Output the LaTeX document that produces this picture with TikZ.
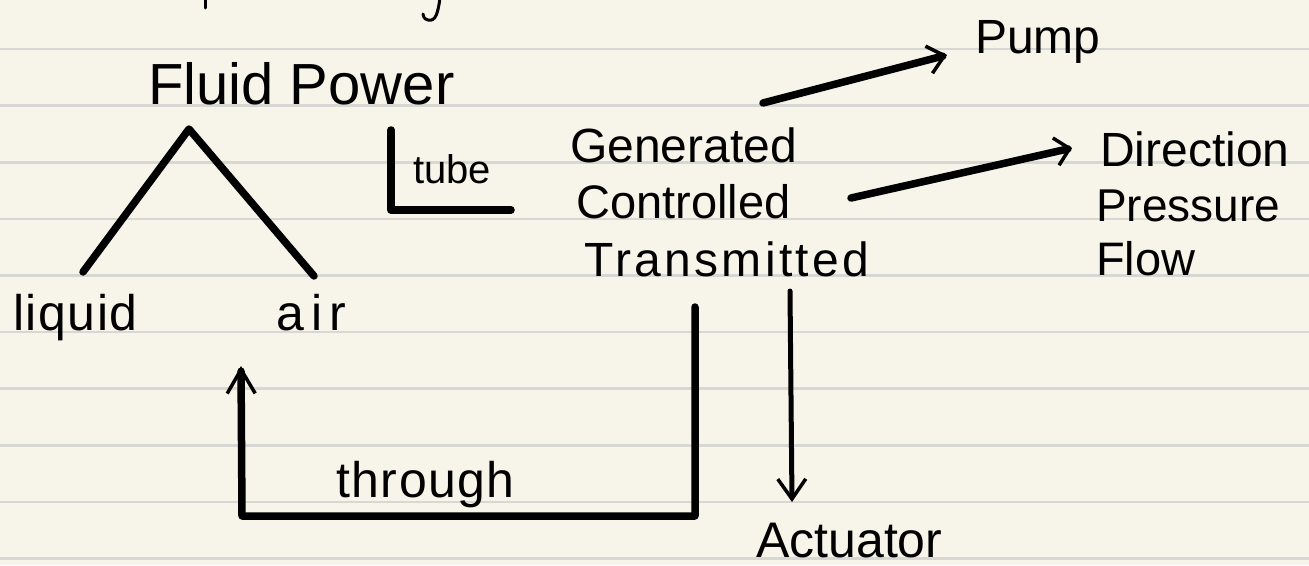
\documentclass[tikz,border=0pt]{standalone}
\usepackage{fontspec}
\setmainfont{Liberation Sans}
\usetikzlibrary{arrows.meta}
\definecolor{paper}{HTML}{F7F5EA}
\definecolor{rulegrey}{HTML}{D7D7D3}
\newcommand{\spaced}[2]{{\addfontfeature{LetterSpace=#1}#2}}
\begin{document}
\begin{tikzpicture}[x=1pt,y=-1pt,
  hw/.style={font=\fontsize{#1}{#1}\selectfont, inner sep=0pt, anchor=base west},
  ink/.style={line width=7.5pt, line cap=round, line join=round},
  thin ink/.style={line width=5pt, line cap=round, line join=round},
  barb/.style={-{Straight Barb[length=#1, width=28pt, line width=3.5pt]}}
]
\fill[paper] (0,0) rectangle (1309,565);
\useasboundingbox (0,0) rectangle (1309,565);
\foreach \yy in {49,105.6,162.2,218.8,275.4,332,388.6,445.2,501.8,558.4}
  \draw[rulegrey, line width=2.6pt] (0,\yy) -- (1309,\yy);

% cut-off fragments of a title at the top edge
\draw[line width=3pt, line cap=round] (205,-2) -- (205,8);
\draw[line width=3pt, line cap=round] (440,-2) .. controls (438,12) and (436,22) .. (428,20) .. controls (424,19) and (423,16) .. (423,14);

% texts
\node[hw=58] (fp) at (148,104) {Fluid Power};
\node[hw=50] (liq) at (13,330) {\spaced{3}{liquid}};
\node[hw=50] (air) at (276,330) {\spaced{14}{air}};
\node[hw=40] (tube) at (413,183) {tube};
\node[hw=48] (gen) at (570,162) {Generated};
\node[hw=47] (con) at (576,218) {Controlled};
\node[hw=48] (tra) at (584,276) {\spaced{7}{Transmitted}};
\node[hw=48] (pump) at (975,53) {Pump};
\node[hw=48] (dir) at (1100,166) {Direction};
\node[hw=46] (pre) at (1096,221) {Pressure};
\node[hw=47] (flow) at (1096,275) {Flow};
\node[hw=50] (thr) at (336,497) {\spaced{3}{through}};
\node[hw=50] (act) at (756,557) {Actuator};

% connector points
\coordinate (apex) at (189,129);
\coordinate (liqtop) at (83,272);
\coordinate (airtop) at (314,276);
\coordinate (Ltop) at (391,130);
\coordinate (Lcorner) at (391,210);
\coordinate (Lend) at (511,210);
\coordinate (pumpS) at (763,103);
\coordinate (pumpE) at (947,55);
\coordinate (dirS) at (851,198);
\coordinate (dirE) at (1072,148);
\coordinate (actS) at (790,291);
\coordinate (actE) at (792,502);
\coordinate (loopS) at (695,307);
\coordinate (loopA) at (695,516);
\coordinate (loopB) at (242,516);
\coordinate (loopE) at (241,366);

% connectors
\draw[ink] (liqtop) -- (apex) -- (airtop);
\draw[ink] (Ltop) -- (Lcorner) -- (Lend);
\draw[ink, barb=16pt] (pumpS) -- (pumpE);
\draw[ink, barb=14pt] (dirS) -- (dirE);
\draw[thin ink, barb=20pt] (actS) -- (actE);
\draw[ink, barb=24pt] (loopS) -- (loopA) -- (loopB) -- (loopE);
\end{tikzpicture}
\end{document}
